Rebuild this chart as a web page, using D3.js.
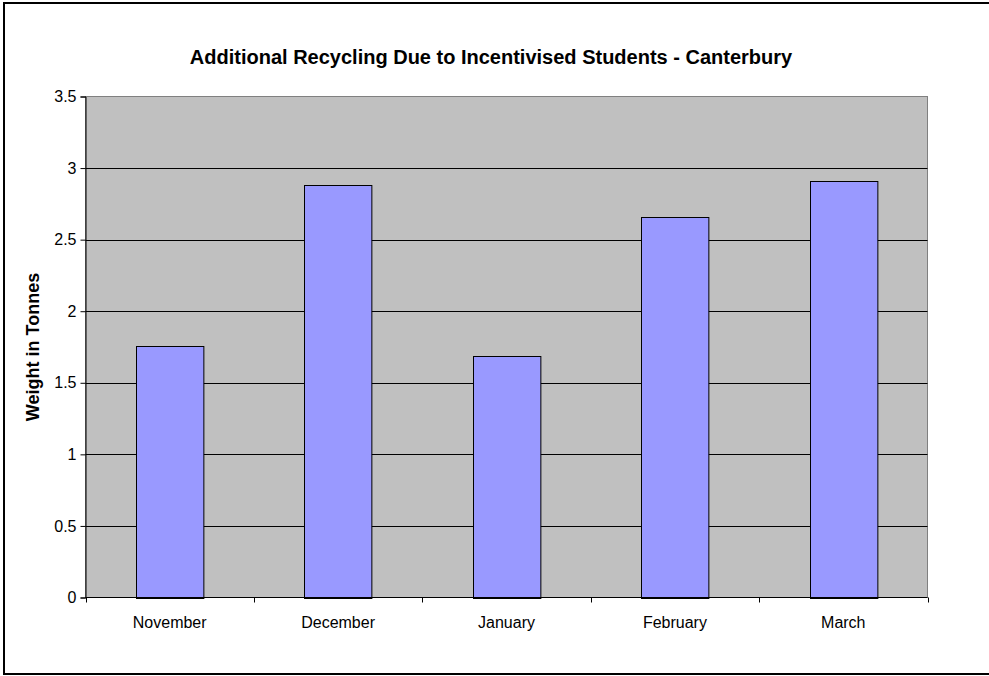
<!DOCTYPE html>
<html>
<head>
<meta charset="utf-8">
<script src="https://cdn.jsdelivr.net/npm/d3@7"></script>
<style>
  html, body { margin: 0; padding: 0; background: #fff; }
  svg { display: block; font-family: Arial, "Liberation Sans", sans-serif; }
</style>
</head>
<body>
<svg id="chart" width="989" height="676"></svg>
<script>
// Monthly additional recycling (tonnes)
const months = ["November", "December", "January", "February", "March"];
const tonnes = [1.76, 2.88, 1.69, 2.66, 2.91];
const yTicks = [0, 0.5, 1, 1.5, 2, 2.5, 3, 3.5];
const yTickLabels = ["0", "0.5", "1", "1.5", "2", "2.5", "3", "3.5"];
const chartTitle = "Additional Recycling Due to Incentivised Students - Canterbury";
const yTitle = "Weight in Tonnes";

const svg = d3.select("#chart");

// outer frame (right side runs past the canvas edge)
svg.append("rect")
  .attr("x", 4).attr("y", 3)
  .attr("width", 1010).attr("height", 671)
  .attr("fill", "#fff").attr("stroke", "#000").attr("stroke-width", 2);

const plot = { left: 85.5, top: 96.5, right: 927.5, bottom: 597.5 };

const x = d3.scaleBand()
  .domain(months)
  .range([plot.left, plot.right])
  .paddingInner(0.6).paddingOuter(0.3);

const xCat = d3.scaleBand().domain(months).range([plot.left, plot.right]);

const y = d3.scaleLinear().domain([0, 3.5]).range([plot.bottom, plot.top]);

// plot background
svg.append("rect")
  .attr("x", plot.left).attr("y", plot.top)
  .attr("width", plot.right - plot.left).attr("height", plot.bottom - plot.top)
  .attr("fill", "#C0C0C0").attr("stroke", "#808080").attr("stroke-width", 1);

// horizontal gridlines
svg.append("g").selectAll("line")
  .data(yTicks.filter(v => v > 0 && v < 3.5))
  .join("line")
  .attr("x1", plot.left).attr("x2", plot.right)
  .attr("y1", d => Math.round(y(d)) + 0.5).attr("y2", d => Math.round(y(d)) + 0.5)
  .attr("stroke", "#000").attr("stroke-width", 1);

// bars
svg.append("g").selectAll("rect")
  .data(months.map((m, i) => ({ m, v: tonnes[i] })))
  .join("rect")
  .attr("x", d => Math.round(x(d.m)) + 0.5)
  .attr("y", d => Math.round(y(d.v)) + 0.5)
  .attr("width", x.bandwidth())
  .attr("height", d => Math.round(y(0)) - Math.round(y(d.v)))
  .attr("fill", "#9999FF").attr("stroke", "#000").attr("stroke-width", 1);

// y axis
const yAxis = d3.axisLeft(y)
  .tickValues(yTicks)
  .tickFormat((d, i) => yTickLabels[i])
  .tickSize(5).tickPadding(4);
const gy = svg.append("g")
  .attr("transform", `translate(${plot.left},0)`)
  .call(yAxis);
gy.select(".domain").attr("stroke", "#000");
gy.selectAll(".tick line").attr("stroke", "#000");
gy.selectAll("text").attr("font-size", 16).attr("fill", "#000")
  .attr("font-family", "Arial, 'Liberation Sans', sans-serif");

// x axis with ticks at category boundaries
const gx = svg.append("g")
  .attr("transform", `translate(0,${plot.bottom})`);
gx.append("line")
  .attr("x1", plot.left).attr("x2", plot.right)
  .attr("stroke", "#000");
const bounds = months.map(m => xCat(m)).concat([plot.right]);
gx.selectAll("line.tk").data(bounds).join("line")
  .attr("class", "tk")
  .attr("x1", d => Math.round(d) + 0.5).attr("x2", d => Math.round(d) + 0.5)
  .attr("y1", 0).attr("y2", 5)
  .attr("stroke", "#000");
gx.selectAll("text").data(months).join("text")
  .attr("x", d => xCat(d) + xCat.bandwidth() / 2)
  .attr("y", 30)
  .attr("text-anchor", "middle")
  .attr("font-size", 16).attr("fill", "#000")
  .text(d => d);

// title
svg.append("text")
  .attr("x", 491).attr("y", 64)
  .attr("text-anchor", "middle")
  .attr("font-size", 20).attr("font-weight", "bold")
  .text(chartTitle);

// y axis title
svg.append("text")
  .attr("transform", `translate(39,${(plot.top + plot.bottom) / 2}) rotate(-90)`)
  .attr("text-anchor", "middle")
  .attr("font-size", 18).attr("font-weight", "bold")
  .text(yTitle);
</script>
</body>
</html>
